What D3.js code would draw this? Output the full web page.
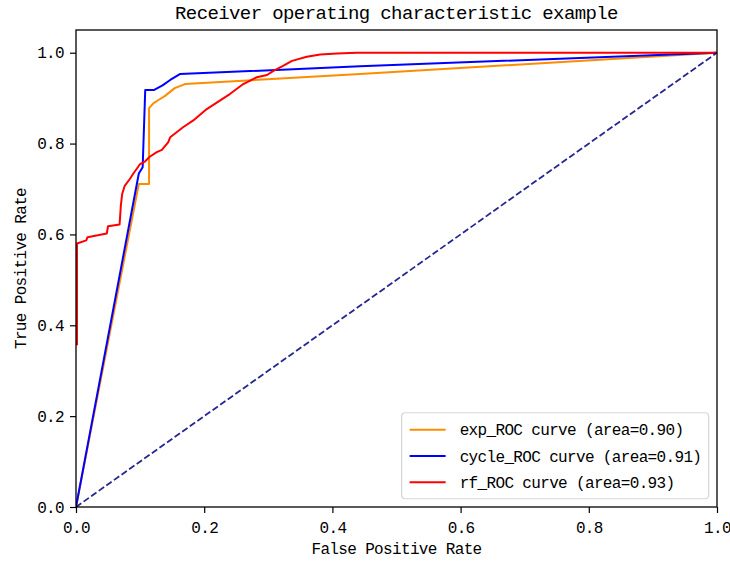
<!DOCTYPE html>
<html>
<head>
<meta charset="utf-8">
<script src="https://cdn.jsdelivr.net/npm/d3@7"></script>
<style>
  body { margin: 0; background: #fff; }
  svg text { font-family: "Liberation Mono", "DejaVu Sans Mono", monospace; fill: #000; }
  .axis text { font-size: 16px; letter-spacing: -0.65px; }
  .title { font-size: 19px; letter-spacing: -0.6px; }
  .xlabel, .ylabel { font-size: 16px; letter-spacing: -0.65px; }
  .legend text { font-size: 16px; letter-spacing: -0.65px; }
</style>
</head>
<body>
<svg id="chart"></svg>
<script>
// exp_ROC curve
const expFpr = [0, 0.098, 0.114, 0.114, 0.121, 0.130, 0.139, 0.154, 0.170, 0.443, 1];
const expTpr = [0, 0.711, 0.711, 0.878, 0.889, 0.897, 0.905, 0.922, 0.931, 0.953, 1];

// cycle_ROC curve
const cycleFpr = [0, 0.098, 0.104, 0.108, 0.122, 0.135, 0.147, 0.162, 0.443, 1];
const cycleTpr = [0, 0.734, 0.748, 0.918, 0.918, 0.928, 0.940, 0.953, 0.970, 1];

// rf_ROC curve (the part on fpr=0 below 0.36 is hidden under the spine)
const rfFpr = [0.0015, 0.0015, 0.016, 0.018, 0.034, 0.048, 0.050, 0.068, 0.070, 0.072, 0.076,
  0.084, 0.089, 0.100, 0.108, 0.115, 0.126, 0.134, 0.144, 0.147, 0.167, 0.183, 0.204,
  0.225, 0.240, 0.261, 0.282, 0.298, 0.308, 0.323, 0.337, 0.360, 0.381, 0.407, 0.438, 1];
const rfTpr = [0.356, 0.580, 0.587, 0.594, 0.598, 0.602, 0.618, 0.622, 0.664, 0.689, 0.707,
  0.722, 0.733, 0.755, 0.761, 0.771, 0.781, 0.786, 0.803, 0.814, 0.836, 0.851, 0.876,
  0.895, 0.909, 0.931, 0.946, 0.951, 0.960, 0.971, 0.982, 0.991, 0.996, 0.998, 1.0, 1];

const seriesNames = ['exp_ROC curve (area=0.90)', 'cycle_ROC curve (area=0.91)', 'rf_ROC curve (area=0.93)'];
const seriesColors = ['darkorange', 'blue', 'red'];
const chanceLine = [0, 1];
const tickValues = [0, 0.2, 0.4, 0.6, 0.8, 1.0];

class RocChart {

  constructor(_config, _data) {
    this.config = {
      parentElement: _config.parentElement,
      containerWidth: _config.containerWidth || 730,
      containerHeight: _config.containerHeight || 563,
      margin: _config.margin || {top: 30, right: 13, bottom: 56, left: 76}
    }
    this.data = _data;
    this.initVis();
  }

  initVis() {
    let vis = this;

    vis.width = vis.config.containerWidth - vis.config.margin.left - vis.config.margin.right;
    vis.height = vis.config.containerHeight - vis.config.margin.top - vis.config.margin.bottom;

    vis.xScale = d3.scaleLinear().domain([0, 1]).range([0, vis.width]);
    vis.yScale = d3.scaleLinear().domain([0, 1.05]).range([vis.height, 0]);

    vis.xAxis = d3.axisBottom(vis.xScale)
        .tickValues(tickValues)
        .tickFormat(d3.format('.1f'))
        .tickSize(6)
        .tickPadding(5);

    vis.yAxis = d3.axisLeft(vis.yScale)
        .tickValues(tickValues)
        .tickFormat(d3.format('.1f'))
        .tickSize(6)
        .tickPadding(6);

    vis.svg = d3.select(vis.config.parentElement)
        .attr('width', vis.config.containerWidth)
        .attr('height', vis.config.containerHeight);

    vis.chart = vis.svg.append('g')
        .attr('transform', `translate(${vis.config.margin.left},${vis.config.margin.top})`);

    vis.svg.append('defs').append('clipPath')
        .attr('id', 'plot-clip')
      .append('rect')
        .attr('width', vis.width)
        .attr('height', vis.height);

    vis.linesG = vis.chart.append('g').attr('clip-path', 'url(#plot-clip)');

    vis.xAxisG = vis.chart.append('g')
        .attr('class', 'axis x-axis')
        .attr('transform', `translate(0,${vis.height})`);

    vis.yAxisG = vis.chart.append('g')
        .attr('class', 'axis y-axis');

    vis.chart.append('text')
        .attr('class', 'title')
        .attr('text-anchor', 'middle')
        .attr('x', vis.width / 2)
        .attr('y', -11)
        .text('Receiver operating characteristic example');

    vis.chart.append('text')
        .attr('class', 'xlabel')
        .attr('text-anchor', 'middle')
        .attr('x', vis.width / 2)
        .attr('y', vis.height + 47)
        .text('False Positive Rate');

    vis.chart.append('text')
        .attr('class', 'ylabel')
        .attr('text-anchor', 'middle')
        .attr('transform', 'rotate(-90)')
        .attr('x', -vis.height / 2)
        .attr('y', -50)
        .text('True Positive Rate');
  }

  updateVis() {
    let vis = this;
    vis.line = d3.line()
        .x(d => vis.xScale(d[0]))
        .y(d => vis.yScale(d[1]));
    vis.renderVis();
  }

  renderVis() {
    let vis = this;

    vis.linesG.selectAll('.roc')
        .data(vis.data)
        .join('path')
        .attr('class', 'roc')
        .attr('fill', 'none')
        .attr('stroke', d => d.color)
        .attr('stroke-width', 2)
        .attr('stroke-linejoin', 'round')
        .attr('d', d => vis.line(d.fpr.map((f, i) => [f, d.tpr[i]])));

    // chance diagonal
    vis.linesG.append('path')
        .attr('fill', 'none')
        .attr('stroke', 'navy')
        .attr('stroke-opacity', 0.85)
        .attr('stroke-width', 1.8)
        .attr('stroke-dasharray', '6.5,2.8')
        .attr('d', vis.line(chanceLine.map(v => [v, v])));

    vis.xAxisG.call(vis.xAxis)
        .call(g => g.select('.domain').remove());
    vis.yAxisG.call(vis.yAxis)
        .call(g => g.select('.domain').remove());
    vis.chart.selectAll('.tick line').attr('stroke', '#000').attr('stroke-width', 1.2);
    vis.xAxisG.selectAll('text').attr('dy', '0.95em');

    // frame
    vis.chart.append('rect')
        .attr('width', vis.width)
        .attr('height', vis.height)
        .attr('fill', 'none')
        .attr('stroke', '#000')
        .attr('stroke-width', 1.3);

    // legend
    const lg = vis.chart.append('g')
        .attr('class', 'legend')
        .attr('transform', `translate(${vis.xScale(0.508)},${vis.yScale(0.2075)})`);

    lg.append('rect')
        .attr('width', 307)
        .attr('height', 86)
        .attr('rx', 3.5)
        .attr('fill', 'rgba(255,255,255,0.8)')
        .attr('stroke', 'rgba(204,204,204,0.8)')
        .attr('stroke-width', 1.2);

    const items = lg.selectAll('.item')
        .data(vis.data)
        .join('g')
        .attr('class', 'item')
        .attr('transform', (d, i) => `translate(0,${17 + i * 26.2})`);

    items.append('line')
        .attr('x1', 8).attr('x2', 44)
        .attr('stroke', d => d.color)
        .attr('stroke-width', 2);

    items.append('text')
        .attr('x', 58)
        .attr('dy', '0.35em')
        .text(d => d.name);
  }
}

const rocData = [
  {name: seriesNames[0], color: seriesColors[0], fpr: expFpr, tpr: expTpr},
  {name: seriesNames[1], color: seriesColors[1], fpr: cycleFpr, tpr: cycleTpr},
  {name: seriesNames[2], color: seriesColors[2], fpr: rfFpr, tpr: rfTpr}
];

const chart = new RocChart({parentElement: '#chart'}, rocData);
chart.updateVis();
</script>
</body>
</html>
